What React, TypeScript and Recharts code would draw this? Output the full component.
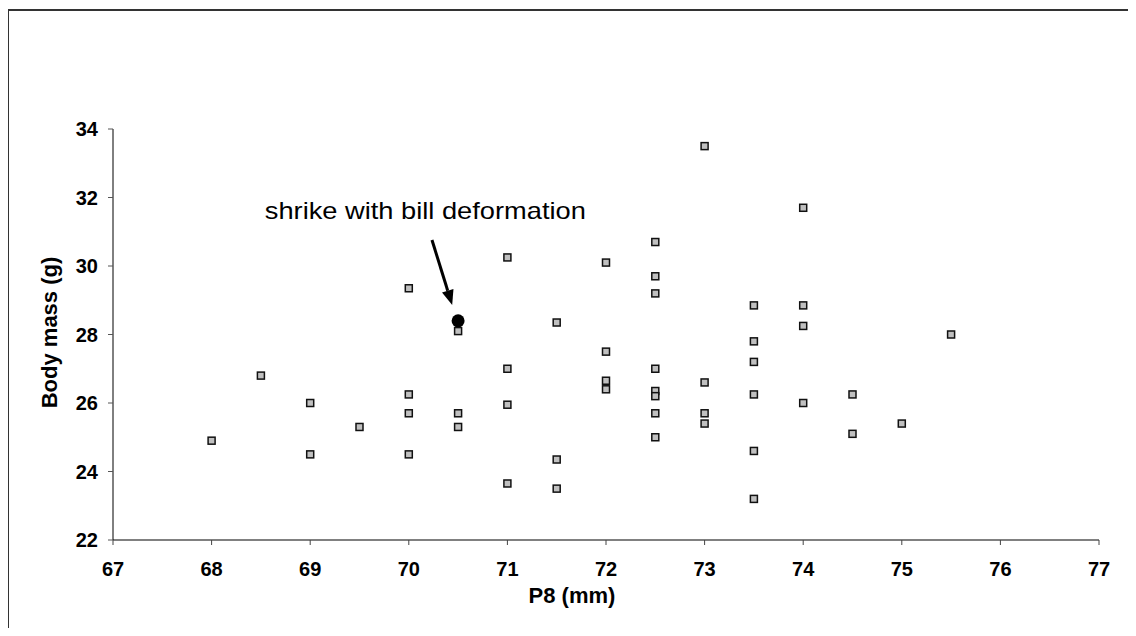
import { ScatterChart, Scatter, XAxis, YAxis, ReferenceLine, ReferenceDot } from "recharts";

// P8 wing length (mm) and body mass (g) of the measured birds
const p8 = [
  68, 68.5, 69, 69, 69.5, 70, 70, 70, 70, 70.5, 70.5, 70.5,
  71, 71, 71, 71, 71.5, 71.5, 71.5, 72, 72, 72, 72,
  72.5, 72.5, 72.5, 72.5, 72.5, 72.5, 72.5, 72.5,
  73, 73, 73, 73, 73.5, 73.5, 73.5, 73.5, 73.5, 73.5,
  74, 74, 74, 74, 74.5, 74.5, 75, 75.5,
];
const mass = [
  24.9, 26.8, 26.0, 24.5, 25.3, 29.35, 26.25, 25.7, 24.5, 28.1, 25.7, 25.3,
  30.25, 27.0, 25.95, 23.65, 28.35, 24.35, 23.5, 30.1, 27.5, 26.65, 26.4,
  30.7, 29.7, 29.2, 27.0, 26.35, 26.2, 25.7, 25.0,
  33.5, 26.6, 25.7, 25.4, 28.85, 27.8, 27.2, 26.25, 24.6, 23.2,
  31.7, 28.85, 28.25, 26.0, 26.25, 25.1, 25.4, 28.0,
];

// the shrike with the bill deformation
const shrikeP8 = [70.5];
const shrikeMass = [28.4];

const xTicks = [67, 68, 69, 70, 71, 72, 73, 74, 75, 76, 77];
const yTicks = [22, 24, 26, 28, 30, 32, 34];

const annotationText = "shrike with bill deformation";
const annotationAt = { x: 68.54, y: 31.37 };
const arrowFrom = { x: 70.235, y: 30.76 };
const arrowTo = { x: 70.44, y: 28.86 };

const birds = p8.map((x, i) => ({ x, y: mass[i] }));
const shrike = shrikeP8.map((x, i) => ({ x, y: shrikeMass[i] }));

const font = "Arial, 'Liberation Sans', sans-serif";

const SquareMark = (props: any) => {
  const { cx, cy } = props;
  return (
    <rect
      x={cx - 3.5}
      y={cy - 3.5}
      width={7}
      height={7}
      fill="#c0c0c0"
      stroke="#111"
      strokeWidth={1.5}
    />
  );
};

const DotMark = (props: any) => {
  const { cx, cy } = props;
  return <circle cx={cx} cy={cy} r={6.5} fill="#000" />;
};

const Arrow = (props: any) => {
  const { x1, y1, x2, y2 } = props;
  const dx = x2 - x1;
  const dy = y2 - y1;
  const len = Math.sqrt(dx * dx + dy * dy);
  const ux = dx / len;
  const uy = dy / len;
  const head = 15;
  const half = 6;
  const bx = x2 - ux * head;
  const by = y2 - uy * head;
  return (
    <g>
      <line x1={x1} y1={y1} x2={bx} y2={by} stroke="#000" strokeWidth={3} />
      <polygon
        points={`${x2},${y2} ${bx - uy * half},${by + ux * half} ${bx + uy * half},${by - ux * half}`}
        fill="#000"
      />
    </g>
  );
};

const AnnotationText = (props: any) => {
  const { cx, cy } = props;
  return (
    <text
      x={cx}
      y={cy}
      fontFamily={font}
      fontSize={24}
      fill="#000"
      textLength={321}
      lengthAdjust="spacingAndGlyphs"
    >
      {annotationText}
    </text>
  );
};

export default function App() {
  return (
    <div
      style={{
        position: "relative",
        margin: -8,
        width: 1136,
        height: 636,
        overflow: "hidden",
        background: "#fff",
      }}
    >
      <div
        style={{
          position: "absolute",
          left: 8,
          top: 9,
          width: 1200,
          height: 700,
          borderTop: "2px solid #333",
          borderLeft: "1.5px solid #333",
        }}
      />
      <div style={{ position: "absolute", left: 0, top: 0 }}>
        <ScatterChart
          width={1136}
          height={636}
          margin={{ top: 129, right: 37, bottom: 36, left: 0 }}
        >
          <XAxis
            type="number"
            dataKey="x"
            domain={[67, 77]}
            ticks={xTicks}
            height={60}
            tickSize={5}
            tickMargin={17}
            axisLine={{ stroke: "#808080", strokeWidth: 2 }}
            tickLine={{ stroke: "#444" }}
            tick={{ fill: "#000", fontSize: 20, fontWeight: "bold", fontFamily: font }}
            label={(p: any) => {
              const vb = p.viewBox;
              return (
                <text
                  x={vb.x + vb.width / 2 - 34}
                  y={vb.y + 63}
                  textAnchor="middle"
                  fontFamily={font}
                  fontSize={22}
                  fontWeight="bold"
                  fill="#000"
                >
                  P8 (mm)
                </text>
              );
            }}
          />
          <YAxis
            type="number"
            dataKey="y"
            domain={[22, 34]}
            ticks={yTicks}
            width={113}
            tickSize={5}
            tickMargin={10}
            axisLine={{ stroke: "#000", strokeWidth: 1 }}
            tickLine={{ stroke: "#555" }}
            tick={{ fill: "#000", fontSize: 20, fontWeight: "bold", fontFamily: font }}
            label={(p: any) => {
              const vb = p.viewBox;
              const lx = vb.x + 57;
              const ly = vb.y + vb.height / 2 - 2;
              return (
                <text
                  x={lx}
                  y={ly}
                  transform={`rotate(-90, ${lx}, ${ly})`}
                  textAnchor="middle"
                  fontFamily={font}
                  fontSize={22}
                  fontWeight="bold"
                  fill="#000"
                >
                  Body mass (g)
                </text>
              );
            }}
          />
          <Scatter data={birds} shape={SquareMark} isAnimationActive={false} />
          <Scatter data={shrike} shape={DotMark} isAnimationActive={false} />
          <ReferenceLine
            segment={[arrowFrom, arrowTo]}
            shape={Arrow}
            ifOverflow="visible"
          />
          <ReferenceDot
            x={annotationAt.x}
            y={annotationAt.y}
            r={0}
            shape={AnnotationText}
            ifOverflow="visible"
          />
        </ScatterChart>
      </div>
    </div>
  );
}
